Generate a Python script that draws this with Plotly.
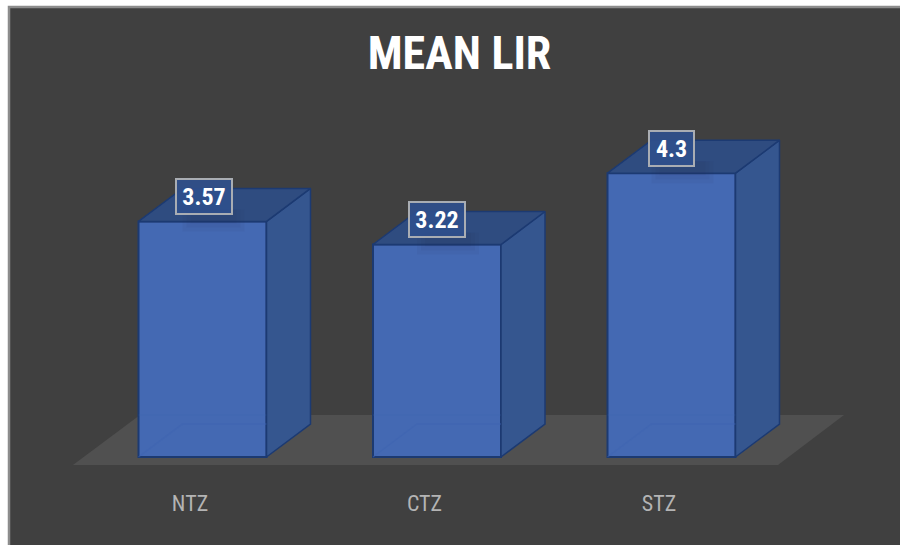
import plotly.graph_objects as go

categories = ["NTZ", "CTZ", "STZ"]
values = [3.57, 3.22, 4.3]
labels = ["3.57", "3.22", "4.3"]

W, H = 900, 545
UX, UY = 234.5, 66.0          # pixels per category / per value
HALF = 64 / UX                # half bar width
DX, DY = 44 / UX, 33 / UY     # 3D depth offset
FONT = "Roboto Condensed, Roboto"
EDGE = "#1c3a72"

x0 = -202.5 / UX
x1 = x0 + W / UX
b_px = 480
y0 = (457 - b_px) / UY
y1 = y0 + b_px / UY

fig = go.Figure()

# front faces
fig.add_trace(go.Bar(x=list(range(3)), y=values, width=2 * HALF,
                     marker=dict(color="#4469b3", line=dict(color=EDGE, width=2)),
                     hoverinfo="skip", showlegend=False))

shadow_shapes = []
for i, v in enumerate(values):
    l, r = i - HALF, i + HALF
    # side face
    fig.add_trace(go.Scatter(x=[r, r + DX, r + DX, r, r], y=[0, DY, v + DY, v, 0],
                             mode="lines", fill="toself", fillcolor="#35568f",
                             line=dict(color=EDGE, width=1.5), hoverinfo="skip", showlegend=False))
    # top face
    fig.add_trace(go.Scatter(x=[l, r, r + DX, l + DX, l], y=[v, v, v + DY, v + DY, v],
                             mode="lines", fill="toself", fillcolor="#2f4c80",
                             line=dict(color=EDGE, width=1.5), hoverinfo="skip", showlegend=False))
    # hidden back edges, seen through the translucent front
    fig.add_trace(go.Scatter(x=[l, l + DX, r], y=[0, DY, DY],
                             mode="lines", line=dict(color="rgba(62,100,178,0.5)", width=1.5),
                             hoverinfo="skip", showlegend=False))
    fig.add_trace(go.Scatter(x=[l, r], y=[(457 - 415) / UY] * 2,
                             mode="lines", line=dict(color="rgba(60,100,175,0.3)", width=1),
                             hoverinfo="skip", showlegend=False))
    # soft shadow under the data label
    for grow in (0, 4, 8):
        shadow_shapes.append(dict(type="rect", xref="x", yref="y", layer="above",
                                  x0=i - (20 - grow) / UX, x1=i + (42 - grow) / UX,
                                  y0=v - (10 - grow) / UY, y1=v + 12 / UY,
                                  fillcolor="rgba(30,40,70,0.05)", line=dict(width=0)))
    fig.add_annotation(x=i, y=v, text=f"<b>{labels[i]}</b>", showarrow=False, yshift=25,
                       xshift=1 if i == 0 else 0,
                       font=dict(family=FONT, size=24, color="white"),
                       width=11 * len(labels[i]) + 10, height=33,
                       bgcolor="rgba(47,79,140,0.92)", bordercolor="#a9adb3", borderwidth=2,
                       borderpad=0)

fig.update_layout(
    width=W, height=H, autosize=False,
    margin=dict(l=0, r=0, t=0, b=H - b_px),
    paper_bgcolor="white", plot_bgcolor="rgba(0,0,0,0)",
    title=dict(text="<b>MEAN LIR</b>", x=459.5 / W, xanchor="center", xref="paper",
               y=1 - 53 / H, yanchor="middle", yref="container",
               font=dict(family=FONT, size=46, color="white")),
    xaxis=dict(range=[x0, x1], tickmode="array",
               tickvals=[i - 12.5 / UX for i in range(3)], ticktext=categories,
               showgrid=False, zeroline=False, showline=False, ticks="",
               ticklabelstandoff=8,
               tickfont=dict(family=FONT, size=22, color="#b4b4b4")),
    yaxis=dict(range=[y0, y1], visible=False),
    shapes=[
        # chart frame
        dict(type="rect", layer="below", xref="paper", yref="paper",
             x0=9 / W, x1=1.02, y0=-(H - b_px + 10) / b_px, y1=1 - 7 / b_px,
             fillcolor="#404040", line=dict(color="#8c8c8c", width=2.5)),
        # floor
        dict(type="path", layer="below", xref="x", yref="y",
             path=f"M {x0 + 73 / UX} {(457 - 465) / UY} L {x0 + 778 / UX} {(457 - 465) / UY} "
                  f"L {x0 + 844 / UX} {(457 - 415) / UY} L {x0 + 140 / UX} {(457 - 415) / UY} Z",
             fillcolor="#505050", line=dict(width=0)),
    ] + shadow_shapes,
)
fig.write_html("out.html", config={"displayModeBar": False},
               post_script="document.body.style.margin='0';document.body.style.overflow='hidden';")
